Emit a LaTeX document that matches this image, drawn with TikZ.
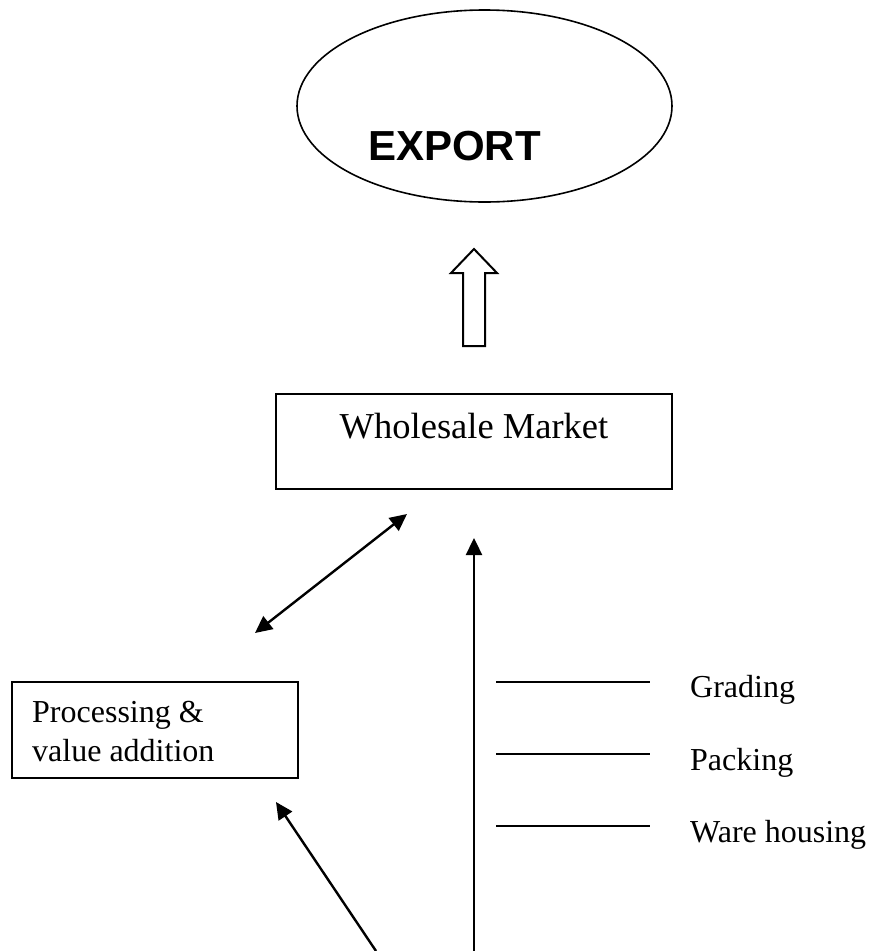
\documentclass[tikz,border=0pt]{standalone}
\usepackage{fontspec}
\setmainfont{Liberation Serif}
\newfontfamily\arialfont{Liberation Sans}
\usetikzlibrary{shapes.geometric,arrows.meta}
\begin{document}
\begin{tikzpicture}[x=1pt,y=-1pt,
  line/.style={line width=2pt},
  boxed/.style={draw,line width=2pt,rectangle,inner sep=0pt},
  tip/.tip={Triangle[length=17pt,width=16pt]},
  conn/.style={line width=2.4pt,-tip},
  small/.style={font=\fontsize{32}{38}\selectfont,inner sep=0pt},
]
\useasboundingbox (0,0) rectangle (874,951);
% export ellipse
\node[ellipse,draw,line width=1.6pt,minimum width=375pt,minimum height=192pt,inner sep=0pt] (exp) at (484.5,106) {};
\node[anchor=base west,inner sep=0pt,font=\arialfont\bfseries\fontsize{42}{46}\selectfont] (exptxt) at (368,160) {EXPORT};
% block arrow
\draw[line width=2pt,line join=miter] (463,346) -- (485,346) -- (485,273) -- (497,273) -- (474,249) -- (451,273) -- (463,273) -- cycle;
% wholesale market
\node[boxed,minimum width=396pt,minimum height=95pt] (wm) at (474,441.5) {};
\node[anchor=base,inner sep=0pt,font=\fontsize{36.5}{40}\selectfont] (wmtxt) at (474,438) {Wholesale Market};
% processing box
\node[boxed,minimum width=286pt,minimum height=96pt] (pv) at (155,730) {};
\node[small,anchor=base west] (pv1) at (32,722) {Processing \&};
\node[small,anchor=base west] (pv2) at (32,761) {value addition};
% double arrow
\coordinate (da1) at (255,633);
\coordinate (da2) at (407,514);
\draw[line width=2.4pt,tip-tip] (da1) -- (da2);
% vertical arrow
\coordinate (vb) at (474,951);
\coordinate (vt) at (474,538);
\draw[conn] (vb) -- (vt);
% diagonal arrow
\coordinate (db) at (376,951);
\coordinate (dt) at (276,802);
\draw[conn] (db) -- (dt);
% side lines
\coordinate (g1) at (496,682); \coordinate (g2) at (650,682);
\coordinate (p1) at (496,754); \coordinate (p2) at (650,754);
\coordinate (w1) at (496,826); \coordinate (w2) at (650,826);
\draw[line] (g1) -- (g2);
\draw[line] (p1) -- (p2);
\draw[line] (w1) -- (w2);
\node[small,anchor=base west] (gr) at (690,697) {Grading};
\node[small,anchor=base west] (pk) at (690,770) {Packing};
\node[small,anchor=base west] (wh) at (690,842) {Ware housing};
\end{tikzpicture}
\end{document}
